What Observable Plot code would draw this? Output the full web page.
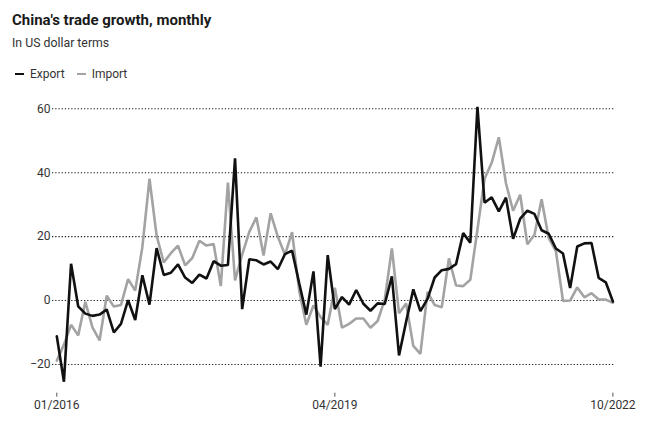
<!DOCTYPE html>
<html>
<head>
<meta charset="utf-8">
<script src="https://cdn.jsdelivr.net/npm/d3@7"></script>
<script src="https://cdn.jsdelivr.net/npm/@observablehq/plot@0.6"></script>
<style>
  html, body { margin: 0; padding: 0; background: #fff; }
  body { width: 658px; height: 423px; position: relative; overflow: hidden; font-family: Roboto, "Noto Sans", sans-serif; color: #222; }
  #title { position: absolute; left: 12px; top: 13px; font-size: 15px; line-height: 14px; font-weight: 700; color: #1a1a1a; white-space: nowrap; }
  #subtitle { position: absolute; left: 12px; top: 37px; font-size: 12.3px; line-height: 12px; color: #333; white-space: nowrap; }
  #legend { position: absolute; left: 15px; top: 68px; font-size: 12px; line-height: 12px; color: #333; white-space: nowrap; display: flex; align-items: center; }
  .item { display: inline-flex; align-items: center; margin-right: 12px; }
  .sw { display: inline-block; width: 9px; height: 2.5px; margin-right: 6px; }
  #chart { position: absolute; left: 0; top: 88px; }
</style>
</head>
<body>
<div id="title">China's trade growth, monthly</div>
<div id="subtitle">In US dollar terms</div>
<div id="legend"></div>
<div id="chart"></div>
<script>
// Categories: months (Jan-Feb combined from 2020 on)
const months = [
  "01/2016","02/2016","03/2016","04/2016","05/2016","06/2016","07/2016","08/2016","09/2016","10/2016","11/2016","12/2016",
  "01/2017","02/2017","03/2017","04/2017","05/2017","06/2017","07/2017","08/2017","09/2017","10/2017","11/2017","12/2017",
  "01/2018","02/2018","03/2018","04/2018","05/2018","06/2018","07/2018","08/2018","09/2018","10/2018","11/2018","12/2018",
  "01/2019","02/2019","03/2019","04/2019","05/2019","06/2019","07/2019","08/2019","09/2019","10/2019","11/2019","12/2019",
  "01-02/2020","03/2020","04/2020","05/2020","06/2020","07/2020","08/2020","09/2020","10/2020","11/2020","12/2020",
  "01-02/2021","03/2021","04/2021","05/2021","06/2021","07/2021","08/2021","09/2021","10/2021","11/2021","12/2021",
  "01-02/2022","03/2022","04/2022","05/2022","06/2022","07/2022","08/2022","09/2022","10/2022"
];

// Series values (% y/y)
const exportGrowth = [
  -11.2, -25.4, 11.5, -1.8, -4.1, -4.8, -4.4, -2.8, -10.0, -7.3, 0.1, -6.1,
  7.9, -1.3, 16.4, 8.0, 8.7, 11.3, 7.2, 5.5, 8.1, 6.9, 12.3, 10.9,
  11.1, 44.5, -2.7, 12.9, 12.6, 11.3, 12.2, 9.8, 14.5, 15.6, 5.4, -4.4,
  9.1, -20.7, 14.2, -2.7, 1.1, -1.3, 3.3, -1.0, -3.2, -0.9, -1.1, 7.6,
  -17.2, -6.6, 3.5, -3.3, 0.5, 7.2, 9.5, 9.9, 11.4, 21.1, 18.1,
  60.6, 30.6, 32.3, 27.9, 32.2, 19.3, 25.6, 28.1, 27.1, 22.0, 20.9,
  16.3, 14.7, 3.9, 16.9, 17.9, 18.0, 7.1, 5.7, -0.3
];
const importGrowth = [
  -18.8, -13.8, -7.6, -10.9, -0.4, -8.4, -12.5, 1.5, -1.9, -1.4, 6.7, 3.1,
  16.7, 38.1, 20.3, 11.9, 14.8, 17.2, 11.0, 13.3, 18.7, 17.2, 17.7, 4.5,
  36.9, 6.3, 14.4, 21.5, 26.0, 14.1, 27.3, 20.0, 14.3, 21.4, 3.0, -7.6,
  -1.5, -5.2, -7.6, 4.0, -8.5, -7.3, -5.6, -5.6, -8.5, -6.4, 0.3, 16.3,
  -4.0, -0.9, -14.2, -16.7, 2.7, -1.4, -2.1, 13.2, 4.7, 4.5, 6.5,
  22.2, 38.1, 43.1, 51.1, 36.7, 28.1, 33.1, 17.6, 20.6, 31.7, 19.5,
  15.5, -0.1, 0.0, 4.1, 1.0, 2.3, 0.3, 0.3, -0.7
];

const seriesNames = ["Export", "Import"];
const seriesColors = ["#111111", "#a3a3a3"];
const xTickLabels = ["01/2016", "04/2019", "10/2022"];
const yTicks = [-20, 0, 20, 40, 60];

// legend
const legend = document.getElementById("legend");
seriesNames.forEach((name, i) => {
  const item = document.createElement("span");
  item.className = "item";
  const sw = document.createElement("span");
  sw.className = "sw";
  sw.style.background = seriesColors[i];
  item.appendChild(sw);
  item.appendChild(document.createTextNode(name));
  legend.appendChild(item);
});

const exportRows = months.map((m, i) => ({month: m, value: exportGrowth[i]}));
const importRows = months.map((m, i) => ({month: m, value: importGrowth[i]}));

const chart = Plot.plot({
  width: 658,
  height: 335,
  marginLeft: 52,
  marginRight: 43,
  marginTop: 20.3,
  marginBottom: 30.3,
  style: {fontFamily: "Roboto, 'Noto Sans', sans-serif", fontSize: "12px", color: "#333", background: "transparent"},
  x: {type: "point", domain: months, padding: 0, round: false, insetLeft: 4.3, insetRight: 2.6},
  y: {domain: [-29, 60]},
  marks: [
    Plot.ruleY(yTicks, {stroke: "#222", strokeWidth: 1.1, strokeDasharray: "1.3,1.9"}),
    Plot.axisY(yTicks, {tickSize: 0, tickPadding: 2, fontSize: 12, fill: "#333", label: null}),
    Plot.axisX(xTickLabels, {tickSize: 4, tickPadding: 3, fontSize: 12, fill: "#333", stroke: "#555", label: null}),
    Plot.line(importRows, {x: "month", y: "value", stroke: seriesColors[1], strokeWidth: 2.6, strokeLinejoin: "miter"}),
    Plot.line(exportRows, {x: "month", y: "value", stroke: seriesColors[0], strokeWidth: 2.6, strokeLinejoin: "miter"})
  ]
});
document.getElementById("chart").appendChild(chart);
</script>
</body>
</html>
